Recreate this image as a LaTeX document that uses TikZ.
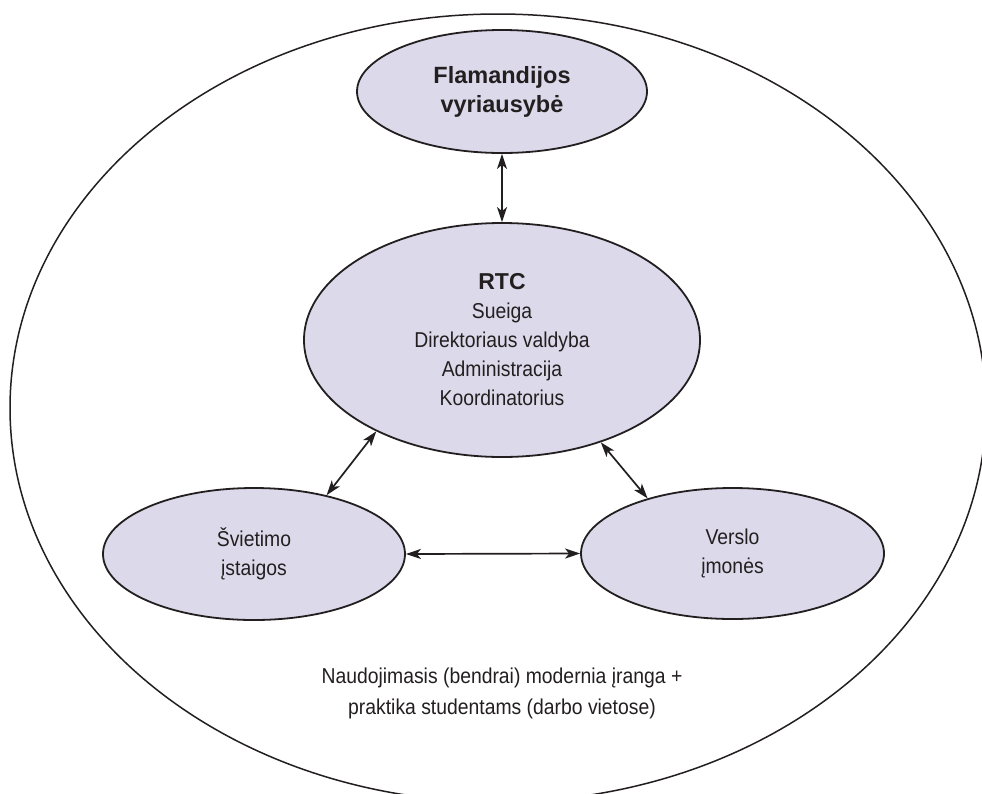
\documentclass[tikz,border=0pt]{standalone}
\usepackage{fontspec}
\setmainfont{Liberation Sans}
\newfontfamily\regf{Liberation Sans}[FakeStretch=0.9]
\usetikzlibrary{shapes.geometric,arrows.meta}
\definecolor{nodefill}{RGB}{220,218,234}
\definecolor{ink}{RGB}{35,31,32}
\tikzset{
  blob/.style={ellipse, draw=ink, line width=1.8pt, fill=nodefill, inner sep=0pt,
    align=center, text=ink, font=\regf\fontsize{21.5}{29}\selectfont},
  link/.style={draw=ink, line width=1.7pt,
    {Stealth[length=15pt,width=10pt,inset=4pt]}-{Stealth[length=15pt,width=10pt,inset=4pt]}},
}
\begin{document}
\begin{tikzpicture}[x=1pt,y=-1pt]
\useasboundingbox (0,0) rectangle (982,793);
\fill[white] (0,0) rectangle (982,793);
\begin{scope}
  \clip (0,0) rectangle (982,793);
  \draw[ink, line width=1.5pt] (498,408) ellipse [x radius=488, y radius=394];
\end{scope}
\node[blob, minimum width=290pt, minimum height=123pt,
  font=\bfseries\fontsize{23.5}{29}\selectfont] (fl) at (502,91.5) {Flamandijos\\vyriausybė};
\node[blob, minimum width=396pt, minimum height=234pt] (rtc) at (502,340)
  {{\rmfamily\bfseries\fontsize{23}{29}\selectfont RTC}\\Sueiga\\Direktoriaus valdyba\\Administracija\\Koordinatorius};
\node[blob, minimum width=302pt, minimum height=132pt] (sv) at (254,554) {Švietimo\\įstaigos};
\node[blob, minimum width=303pt, minimum height=131pt] (ve) at (732.5,553.5) {Verslo\\įmonės};
\node[text=ink, align=center, font=\regf\fontsize{21.5}{31}\selectfont] (note) at (502,693)
  {Naudojimasis (bendrai) modernia įranga +\\praktika studentams (darbo vietose)};
\draw[link] (fl.south) -- (rtc.north);
\draw[link] (rtc.216) -- (sv.39);
\draw[link] (rtc.314) -- (ve.147);
\draw[link] (sv.east) -- (ve.west);
\end{tikzpicture}
\end{document}
